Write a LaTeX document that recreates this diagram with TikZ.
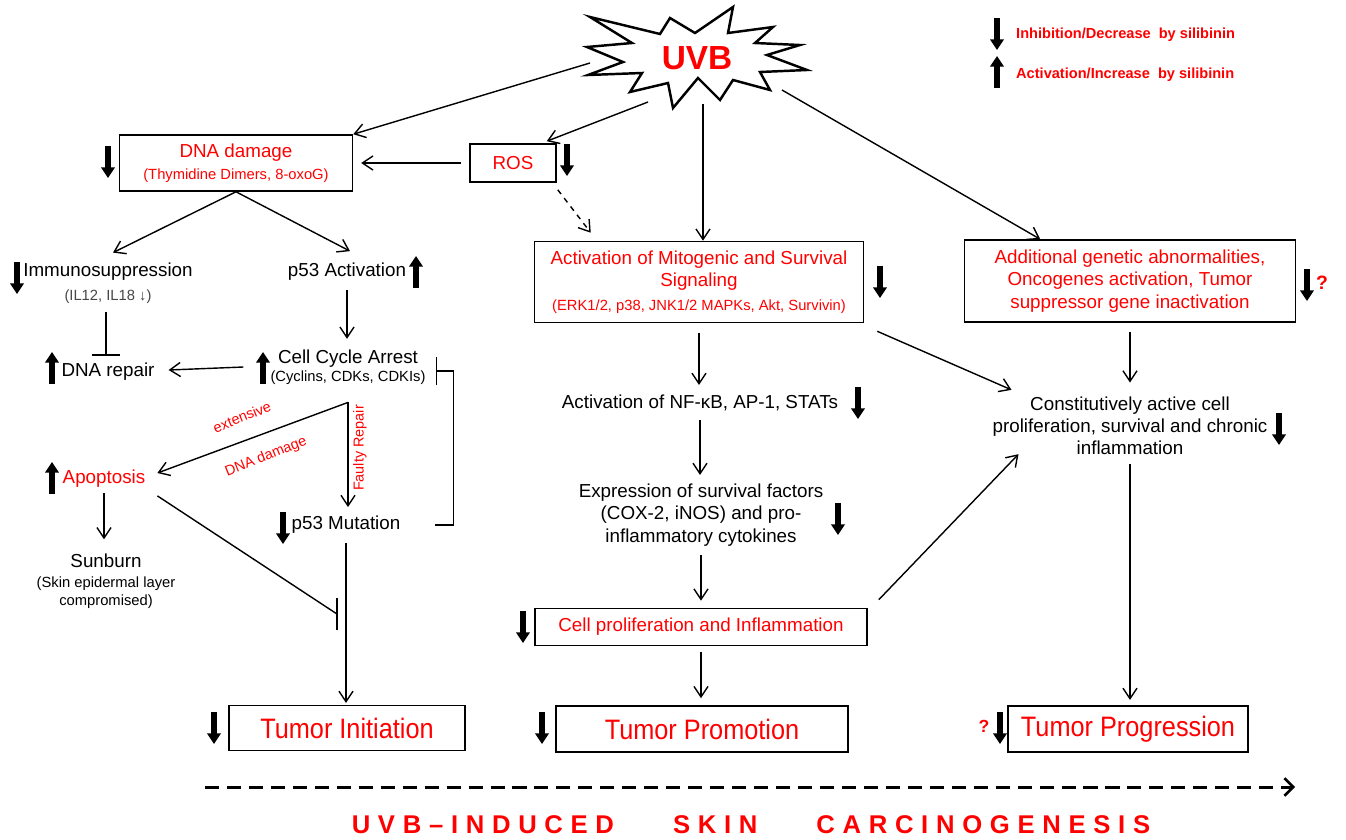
\documentclass[tikz,border=0pt]{standalone}
\usepackage{fontspec}
\setmainfont{Liberation Sans}
\usepackage{graphicx}
\usetikzlibrary{arrows.meta,positioning,calc}
\definecolor{uvbred}{RGB}{255,0,0}
\definecolor{subgray}{RGB}{70,70,70}
\newcommand{\subsz}{\fontsize{8.4}{10}\selectfont}
\newcommand{\tumortxt}[1]{\scalebox{0.9}[1]{\fontsize{16}{18}\selectfont #1}}

\begin{document}
\begin{tikzpicture}[x=0.02cm,y=-0.02cm,
    every node/.style={font=\fontsize{10.7}{12.6}\selectfont},
    box/.style={draw,line width=0.9pt,inner sep=0pt,align=center,text=uvbred},
    txt/.style={align=center,inner sep=1pt},
    lbl/.style={font=\fontsize{8.2}{10}\selectfont,text=uvbred,inner sep=0pt},
    conn/.style={line width=0.8pt,-{Straight Barb[length=6pt,width=8pt,line width=0.8pt]}},
    inh/.style={line width=0.8pt,-{Bar[width=16pt,line width=0.8pt]}},
    silarrow/.style={line width=3.8pt,-{Triangle[length=6pt,width=7.5pt]}},
    pics/sildown/.style={code={\draw[silarrow] (0,-16) -- (0,16);}},
    pics/silup/.style={code={\draw[silarrow] (0,16) -- (0,-16);}}]
    \useasboundingbox (0,0) rectangle (1346,839);

    % UVB burst
    \draw[line width=1.4pt,fill=white,line join=miter] (590,17) -- (660,34) -- (670,18) -- (695,33) -- (733,7) -- (728,33)
        -- (773,27) -- (755,43) -- (800,45) -- (767,55) -- (807,70) -- (760,72) -- (770,90) -- (733,80)
        -- (720,100) -- (698,78) -- (673,108) -- (668,83) -- (630,92) -- (642,73) -- (588,75) -- (623,62)
        -- (587,47) -- (632,43) -- cycle;
    \node[font=\fontsize{19}{22}\selectfont\bfseries,text=uvbred] (uvb) at (697,58) {UVB};
    \coordinate (uvbW) at (590,63);
    \coordinate (uvbSW) at (648,102);
    \coordinate (uvbS) at (703,104);
    \coordinate (uvbSE) at (782,90);

    % legend
    \pic at (997,34) {sildown};
    \node[anchor=west,font=\fontsize{8.3}{10}\selectfont\bfseries,text=uvbred] (leginh) at (1010,35) {Inhibition/Decrease\ \ by silibinin};
    \pic at (997,72) {silup};
    \node[anchor=west,font=\fontsize{8.3}{10}\selectfont\bfseries,text=uvbred] (legact) at (1010,75) {Activation/Increase\ \ by silibinin};

    % left column
    \node[box,minimum width=4.66cm,minimum height=1.12cm] (dnadmg) at (236,163) {DNA damage\\{\subsz (Thymidine Dimers, 8-oxoG)}};
    \node[box,minimum width=1.72cm,minimum height=0.76cm] (ros) at (513,163) {ROS};
    \node[txt] (immuno) at (108,283) {Immunosuppression\\[1pt]{\subsz\color{subgray}(IL12, IL18 ↓)}};
    \node[txt] (p53act) at (347,272) {p53 Activation};
    \node[txt] (cca) at (348,367) {Cell Cycle Arrest\\[-2.4pt]{\subsz (Cyclins, CDKs, CDKIs)}};
    \node[txt] (dnarep) at (108,372) {DNA repair};
    \node[txt,text=uvbred] (apop) at (104,479) {Apoptosis};
    \node[txt] (sunburn) at (106,581) {Sunburn\\[-1.3pt]{\subsz (Skin epidermal layer}\\[-2.4pt]{\subsz compromised)}};
    \node[txt] (p53mut) at (346,525) {p53 Mutation};
    \node[box,minimum width=4.72cm,minimum height=0.9cm] (tinit) at (347,728) {\tumortxt{Tumor Initiation}};
    \node[lbl,rotate=22] (lblext) at (242,417) {extensive};
    \node[lbl,rotate=22] (lbldna) at (266,457) {DNA damage};
    \node[lbl,rotate=90] (lblfaulty) at (360,448) {Faulty Repair};

    % middle column
    \node[box,minimum width=6.58cm,minimum height=1.62cm] (mito) at (699,282) {Activation of Mitogenic and Survival\\Signaling\\[1pt]{\subsz (ERK1/2, p38, JNK1/2 MAPKs, Akt, Survivin)}};
    \node[txt] (nfkb) at (700,403) {Activation of NF-κB, AP-1, STATs};
    \node[txt] (expr) at (701,515) {Expression of survival factors\\(COX-2, iNOS) and pro-\\inflammatory cytokines};
    \node[box,minimum width=6.64cm,minimum height=0.74cm] (cprol) at (701,627) {Cell proliferation and Inflammation};
    \node[box,minimum width=5.84cm,minimum height=0.92cm] (tprom) at (702,729) {\tumortxt{Tumor Promotion}};

    % right column
    \node[box,minimum width=6.62cm,minimum height=1.64cm] (addgen) at (1130,281) {Additional genetic abnormalities,\\Oncogenes activation, Tumor\\suppressor gene inactivation};
    \node[txt] (const) at (1130,426) {Constitutively active cell\\proliferation, survival and chronic\\inflammation};
    \node[box,minimum width=4.8cm,minimum height=0.92cm] (tprog) at (1128,729) {\tumortxt{Tumor Progression}};
    \node[font=\fontsize{11}{13}\selectfont\bfseries,text=uvbred] (qadd) at (1322,283) {?};
    \node[font=\fontsize{10}{12}\selectfont\bfseries,text=uvbred] (qprog) at (984,726) {?};

    % silibinin effects
    \pic at (108,162) {sildown};
    \pic at (567,160) {sildown};
    \pic at (17,278) {sildown};
    \pic at (416,272) {silup};
    \pic at (880,282) {sildown};
    \pic at (1307,285) {sildown};
    \pic at (52,368) {silup};
    \pic at (263,368) {silup};
    \pic at (858,403) {sildown};
    \pic at (1279,429) {sildown};
    \pic at (52,478) {silup};
    \pic at (283,528) {sildown};
    \pic at (838,519) {sildown};
    \pic at (523,627) {sildown};
    \pic at (214,728) {sildown};
    \pic at (542,728) {sildown};
    \pic at (1000,728) {sildown};

    % connectors
    \draw[conn] (uvbW) -- (dnadmg.north east);
    \draw[conn] (uvbSW) -- ($(ros.north east)+(-10,-2)$);
    \draw[conn] (uvbS) -- (uvbS |- mito.north);
    \draw[conn] (uvbSE) -- ($(addgen.north west)!0.23!(addgen.north east)$);
    \draw[conn,shorten <=4.5pt,shorten >=4.5pt] (ros.west) -- (dnadmg.east);
    \draw[conn,dashed] ($(ros.south east)+(1,7)$) -- ($(mito.north west)+(57,-8)$);
    \draw[conn] (dnadmg.south) -- ($(immuno.north)+(5,-8)$);
    \draw[conn] (dnadmg.south) -- ($(p53act.north)+(3,-10)$);
    \draw[conn,shorten <=4pt,shorten >=5pt] (p53act.south) -- (p53act.south |- cca.north);
    \draw[inh,shorten <=4pt,shorten >=3pt] ($(immuno.south)+(-2,0)$) -- ($(immuno.south |- dnarep.north)+(-2,0)$);
    \draw[conn] ($(cca.west)+(-25,0)$) -- ($(dnarep.east)+(12,-2)$);
    \coordinate (split) at ($(cca.south)+(0,16)$);
    \draw[conn] (split) -- ($(apop.east)+(10,-6)$);
    \draw[conn,shorten >=4pt] (split) -- (split |- p53mut.north);
    \draw[conn,shorten <=2pt,shorten >=7pt] (apop.south) -- (apop.south |- sunburn.north);
    \coordinate (blk) at (337,614);
    \draw[line width=0.8pt] ($(apop.south east)+(10,6)$) -- (blk);
    \draw[line width=0.8pt] ($(blk)+(0,-16)$) -- ($(blk)+(0,16)$);
    \draw[conn,shorten <=4pt,shorten >=1pt] (p53mut.south) -- (p53mut.south |- tinit.north);
    \draw[inh] ($(p53mut.east)+(33,0)$) -- ++(18,0) |- ($(cca.east)+(8,4)$);
    \draw[conn,shorten <=5.5pt,shorten >=4.5pt] (mito.south) -- (mito.south |- nfkb.north);
    \draw[conn,shorten <=4pt,shorten >=4pt] (nfkb.south) -- (nfkb.south |- expr.north);
    \draw[conn,shorten <=4pt,shorten >=4pt] (expr.south) -- (expr.south |- cprol.north);
    \draw[conn,shorten <=3pt,shorten >=4pt] (cprol.south) -- (cprol.south |- tprom.north);
    \draw[conn] ($(mito.south east)+(13,8)$) -- ($(const.north west)+(21,-5)$);
    \draw[conn] ($(cprol.north east)+(11,-8)$) -- ($(const.south west)+(28,-3)$);
    \draw[conn,shorten <=5.5pt,shorten >=7pt] (addgen.south) -- (addgen.south |- const.north);
    \draw[conn,shorten <=4pt,shorten >=3pt] (const.south) -- (const.south |- tprog.north);

    % time line
    \coordinate (tl0) at (205,787);
    \coordinate (tl1) at (1295,787);
    \draw[line width=1.7pt,dash pattern=on 8pt off 4.5pt,-{Straight Barb[length=5pt,width=10pt,line width=1.5pt]}] (tl0) -- (tl1);
    \node[font=\fontsize{14.6}{16}\selectfont\bfseries,text=uvbred] (title) at (751,825) {\addfontfeature{LetterSpace=30}UVB–INDUCED\hspace{2.3em}SKIN\hspace{2.3em}CARCINOGENESIS};
\end{tikzpicture}
\end{document}
